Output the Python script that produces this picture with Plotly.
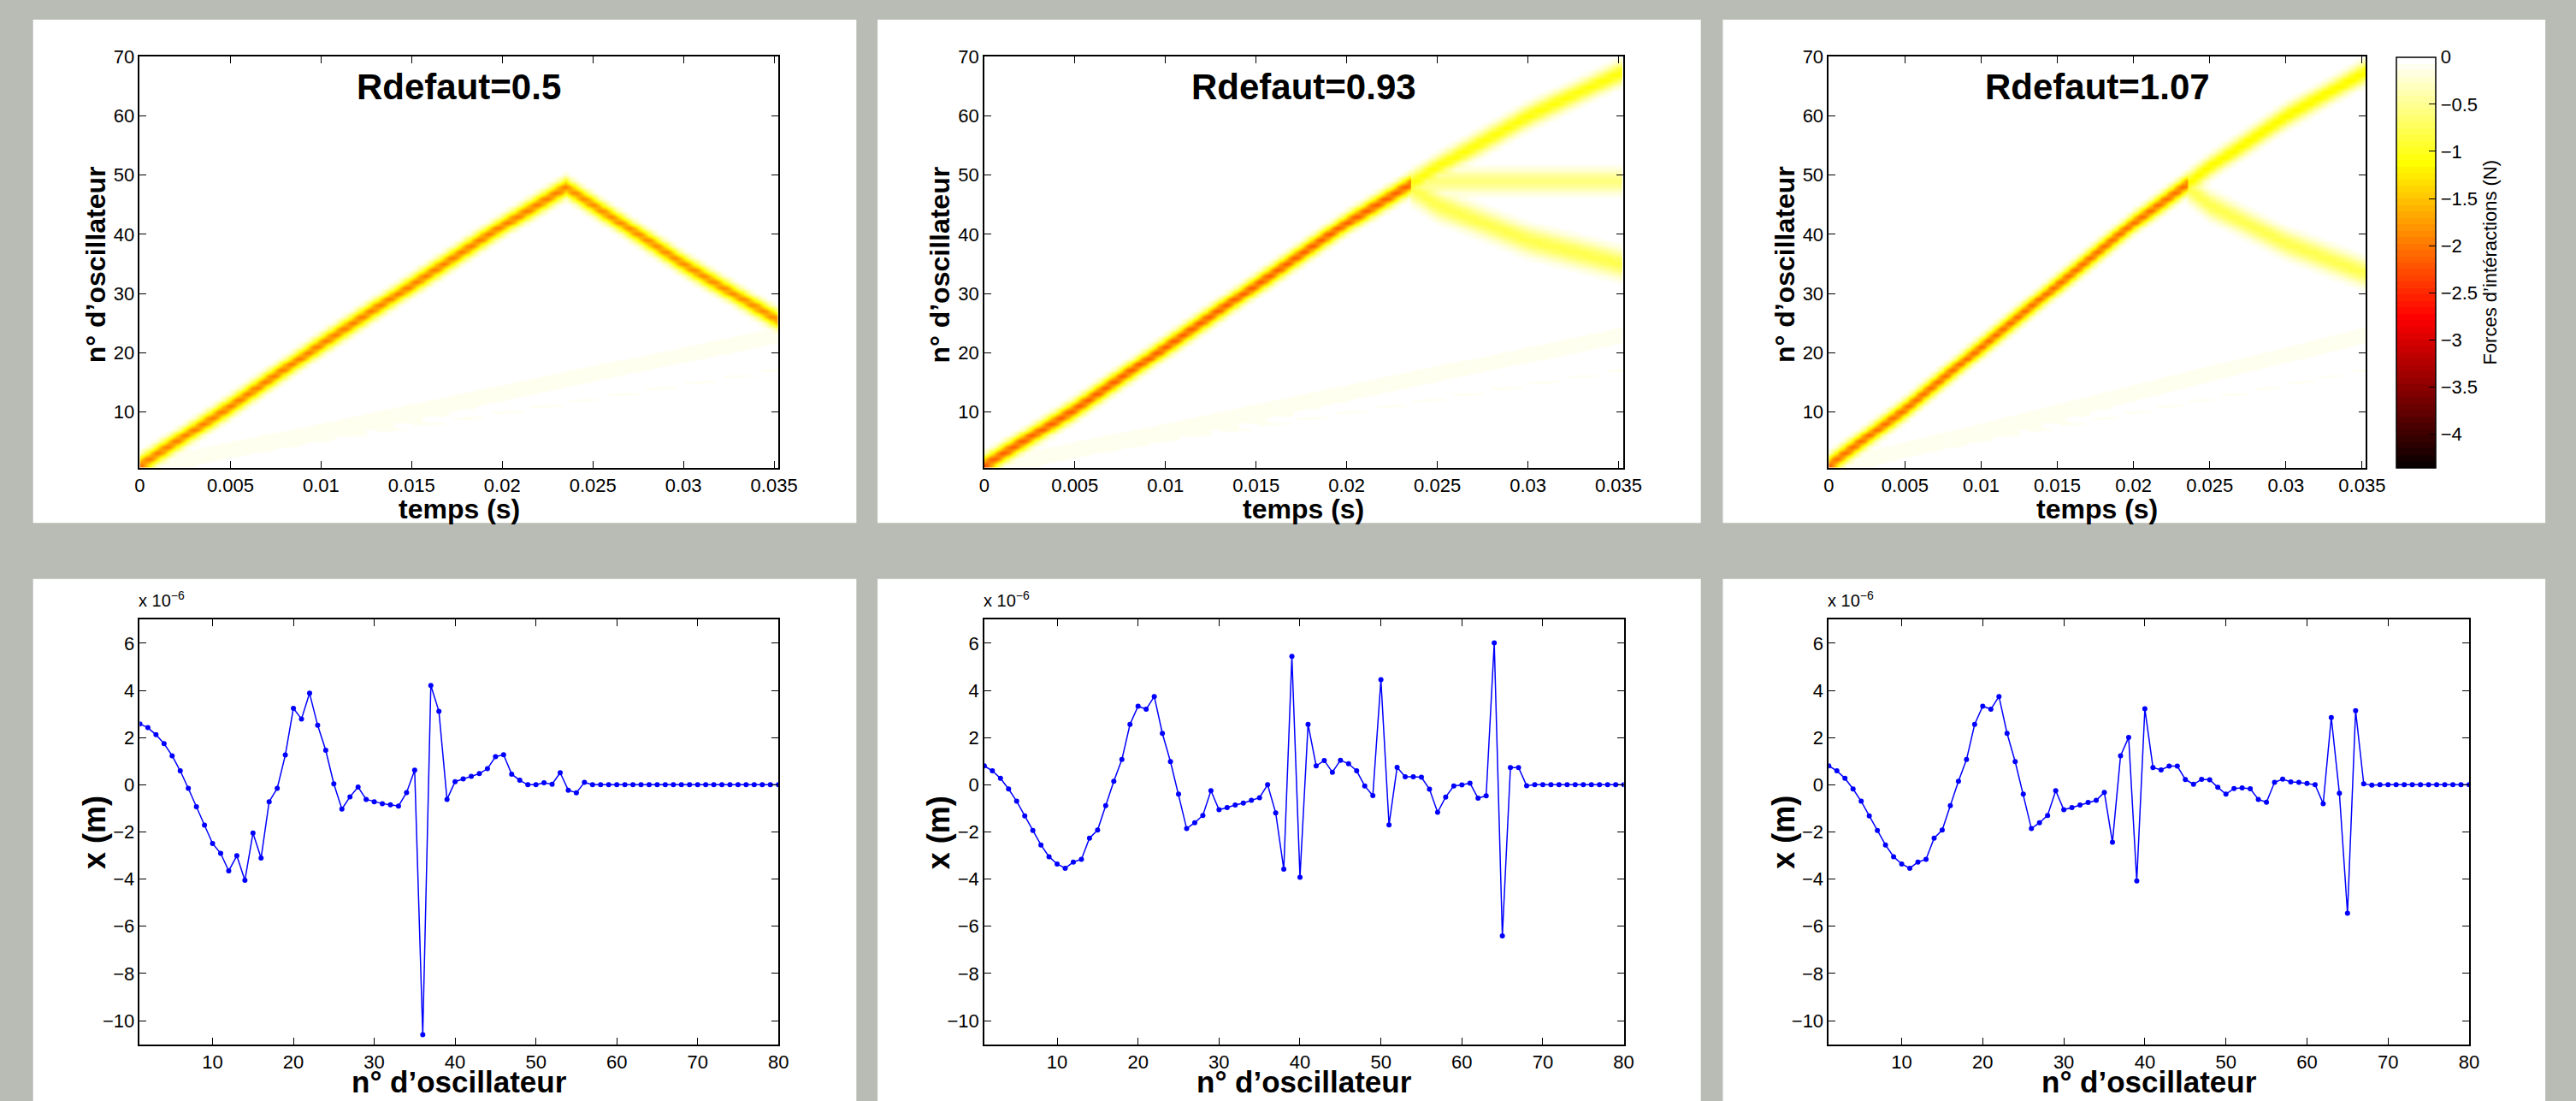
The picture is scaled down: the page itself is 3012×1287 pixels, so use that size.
import numpy as np
import plotly.graph_objects as go

W, H = 3012, 1287
BG = "#b9bcb5"
FONT = "Arial, Liberation Sans, Helvetica, sans-serif"

# ---------------- data: heatmap wavefronts (time s, oscillator n, peak force N, width) -------------
titles = ["Rdefaut=0.5", "Rdefaut=0.93", "Rdefaut=1.07"]

inc_t = [0.0, 0.005, 0.01, 0.015, 0.02, 0.0235]
p1_inc_osc = [1, 11, 21.5, 31.5, 41.5, 48]
p23_inc_osc = [1, 10.5, 21, 31.5, 42, 48.5]

out_t = [0.0235, 0.025, 0.03, 0.0352]
p1_ref_osc = [48, 45, 35, 25.5]
p2_tr_osc = [48.5, 51.5, 60, 67.5]
p2_trap_osc = [48.5, 49, 49, 49]
p2_ref_osc = [48, 45, 39, 35]
p3_tr_osc = [48.5, 51.5, 60, 67.5]
p3_ref_osc = [48, 45, 38.5, 33.5]

faint_t = [0.001, 0.0352]
faint_osc_a = [1, 23]
faint_osc_b = [1, 17]
faint_osc_c = [1, 11]

bands = [
    [(inc_t, p1_inc_osc, -2.0, 1.0), (out_t, p1_ref_osc, -1.9, 1.0),
     (faint_t, faint_osc_a, -0.09, 1.8), (faint_t, faint_osc_b, -0.07, 1.8), (faint_t, faint_osc_c, -0.05, 1.8)],
    [(inc_t, p23_inc_osc, -2.2, 1.0), (out_t, p2_tr_osc, -1.1, 1.2), (out_t, p2_trap_osc, -0.6, 1.3),
     (out_t, p2_ref_osc, -0.8, 1.5),
     (faint_t, faint_osc_a, -0.09, 1.8), (faint_t, faint_osc_b, -0.07, 1.8), (faint_t, faint_osc_c, -0.05, 1.8)],
    [(inc_t, p23_inc_osc, -2.1, 1.0), (out_t, p3_tr_osc, -1.2, 1.15), (out_t, p3_ref_osc, -0.8, 1.4),
     (faint_t, faint_osc_a, -0.09, 1.8), (faint_t, faint_osc_b, -0.07, 1.8), (faint_t, faint_osc_c, -0.05, 1.8)],
]

# ---------------- data: displacement snapshots (x 1e-6 m) -------------
osc = list(range(1, 81))
x_r05 = [2.58, 2.42, 2.12, 1.74, 1.23, 0.59, -0.15, -0.93, -1.71, -2.49,
         -2.91, -3.65, -3.01, -4.05, -2.05, -3.11, -0.72, -0.15, 1.26, 3.24,
         2.79, 3.88, 2.52, 1.46, 0.04, -1.03, -0.51, -0.10, -0.62, -0.72,
         -0.80, -0.85, -0.90, -0.33, 0.62, -10.6, 4.21, 3.11, -0.62, 0.13,
         0.25, 0.36, 0.47, 0.68, 1.19, 1.27, 0.45, 0.19, 0.0, 0.0,
         0.08, 0.02, 0.51, -0.23, -0.34, 0.10, 0.0] + [0.0] * 23
x_r093 = [0.80, 0.59, 0.27, -0.18, -0.70, -1.32, -1.94, -2.55, -3.05, -3.36,
          -3.54, -3.28, -3.16, -2.26, -1.92, -0.89, 0.15, 1.07, 2.56, 3.33,
          3.20, 3.74, 2.18, 0.98, -0.40, -1.86, -1.61, -1.30, -0.25, -1.06,
          -0.97, -0.86, -0.78, -0.66, -0.55, 0.0, -1.19, -3.58, 5.44, -3.92,
          2.56, 0.80, 1.03, 0.53, 1.04, 0.89, 0.59, -0.05, -0.46, 4.45,
          -1.70, 0.74, 0.34, 0.34, 0.32, -0.19, -1.17, -0.52, -0.05, -0.01,
          0.07, -0.57, -0.47, 6.01, -6.41, 0.73, 0.73, -0.04] + [0.0] * 12
x_r107 = [0.80, 0.59, 0.27, -0.18, -0.70, -1.32, -1.94, -2.55, -3.05, -3.36,
          -3.54, -3.28, -3.16, -2.26, -1.92, -0.89, 0.15, 1.07, 2.56, 3.33,
          3.20, 3.74, 2.18, 0.98, -0.40, -1.86, -1.61, -1.30, -0.25, -1.06,
          -0.97, -0.86, -0.75, -0.66, -0.32, -2.44, 1.23, 2.01, -4.08, 3.22,
          0.73, 0.63, 0.79, 0.79, 0.22, 0.02, 0.23, 0.21, -0.11, -0.40,
          -0.16, -0.13, -0.17, -0.62, -0.74, 0.10, 0.24, 0.12, 0.10, 0.06,
          0.0, -0.80, 2.85, -0.36, -5.45, 3.14, 0.04, -0.02] + [0.0] * 12
snapshots = [x_r05, x_r093, x_r107]

time_ticks = [0, 0.005, 0.01, 0.015, 0.02, 0.025, 0.03, 0.035]
time_ticktext = ["0", "0.005", "0.01", "0.015", "0.02", "0.025", "0.03", "0.035"]
osc_ticks_top = [10, 20, 30, 40, 50, 60, 70]
osc_ticks_bottom = [10, 20, 30, 40, 50, 60, 70, 80]
x_ticks = [-10, -8, -6, -4, -2, 0, 2, 4, 6]
cbar_ticks = [0, -0.5, -1, -1.5, -2, -2.5, -3, -3.5, -4]

ZMIN, ZMAX = -4.356, 0.0

# ---------------- build heatmap fields -------------
t_grid = np.linspace(0, 0.0352, 705)
rows = np.arange(1, 71)


def field(band_list):
    Z = np.zeros((rows.size, t_grid.size))
    for bt, bo, amp, sig in band_list:
        yc = np.interp(t_grid, bt, bo)
        mask = (t_grid >= bt[0]) & (t_grid <= bt[-1])
        c = amp * np.exp(-0.5 * ((rows[:, None] - yc[None, :]) / sig) ** 2)
        c[:, ~mask] = 0
        Z = np.minimum(Z, c)
    return np.clip(Z, ZMIN, ZMAX)


# MATLAB "hot" 64 colours, stepped
m = 64
n = 24
cols = []
for i in range(m):
    r = (i + 1) / n if i < n else 1.0
    g = 0.0 if i < n else ((i - n + 1) / n if i < 2 * n else 1.0)
    b = 0.0 if i < 2 * n else (i - 2 * n + 1) / (m - 2 * n)
    cols.append("rgb(%d,%d,%d)" % (round(r * 255), round(g * 255), round(b * 255)))
cscale = []
for i, c in enumerate(cols):
    cscale.append([i / m, c])
    cscale.append([(i + 1) / m, c])


def fx(p):
    return p / W


def fy(p):
    return 1 - p / H


fig = go.Figure()

top_x = [(159, 913), (1156, 1910), (2153, 2787)]
bot_x = [(159, 913), (1156, 1911), (2153, 2909)]
top_y = (55, 540)
bot_y = (719, 1220)
panels_top = [(33, 1005), (1030, 2002), (2028, 2999)]

shapes = []
for (a, b) in panels_top:
    shapes.append(dict(type="rect", xref="paper", yref="paper", x0=fx(a), x1=fx(b), y0=fy(605), y1=fy(11),
                       fillcolor="white", line_width=0, layer="below"))
    shapes.append(dict(type="rect", xref="paper", yref="paper", x0=fx(a), x1=fx(b), y0=fy(1290), y1=fy(671),
                       fillcolor="white", line_width=0, layer="below"))

axis_common = dict(showline=True, linecolor="black", linewidth=1.5, mirror="ticks", ticks="inside",
                   ticklen=8, tickcolor="black", tickwidth=1.2, showgrid=False, zeroline=False,
                   tickfont=dict(family=FONT, size=22, color="black"))

annotations = []
layout_axes = {}
for k in range(3):
    # heatmap
    idx = k + 1
    xa = "x" if idx == 1 else "x%d" % idx
    ya = "y" if idx == 1 else "y%d" % idx
    show = (k == 2)
    hm = go.Heatmap(z=field(bands[k]), x=t_grid, y=rows, zmin=ZMIN, zmax=ZMAX, colorscale=cscale,
                    zsmooth="best", showscale=show, xaxis=xa, yaxis=ya, hoverinfo="skip")
    if show:
        hm.colorbar = dict(x=fx(2823), xanchor="left", xpad=0, y=fy((top_y[0] + top_y[1]) / 2),
                           yanchor="middle", ypad=0, len=(top_y[1] - top_y[0]) / H, lenmode="fraction",
                           thickness=46, thicknessmode="pixels", outlinewidth=1.5, outlinecolor="black",
                           tickvals=cbar_ticks, ticktext=[("\u2212" + str(abs(v))) if v < 0 else "0" for v in cbar_ticks],
                           ticks="inside", ticklen=8, tickcolor="black",
                           tickfont=dict(family=FONT, size=22, color="black"),
                           title=dict(text="Forces d\u2019intéractions (N)", side="right",
                                      font=dict(family=FONT, size=22, color="black")))
    fig.add_trace(hm)
    layout_axes["xaxis" if idx == 1 else "xaxis%d" % idx] = dict(
        domain=[fx(top_x[k][0]), fx(top_x[k][1])], anchor=ya, range=[0, 0.03524],
        tickvals=time_ticks, ticktext=time_ticktext, **axis_common)
    layout_axes["yaxis" if idx == 1 else "yaxis%d" % idx] = dict(
        domain=[fy(top_y[1]), fy(top_y[0])], anchor=xa, range=[0.5, 70],
        tickvals=osc_ticks_top, **axis_common)

    # snapshot line
    idx2 = k + 4
    xa2, ya2 = "x%d" % idx2, "y%d" % idx2
    fig.add_trace(go.Scatter(x=osc, y=snapshots[k], mode="lines+markers", xaxis=xa2, yaxis=ya2,
                             line=dict(color="#0000ff", width=1.5),
                             marker=dict(color="#0000ff", size=6), showlegend=False, hoverinfo="skip"))
    layout_axes["xaxis%d" % idx2] = dict(domain=[fx(bot_x[k][0]), fx(bot_x[k][1])], anchor=ya2,
                                         range=[1, 80], tickvals=osc_ticks_bottom, **axis_common)
    layout_axes["yaxis%d" % idx2] = dict(domain=[fy(bot_y[1]), fy(bot_y[0])], anchor=xa2,
                                         range=[-11, 7], tickvals=x_ticks,
                                         ticktext=[("\u2212" + str(abs(v))) if v < 0 else str(v) for v in x_ticks],
                                         **axis_common)

    # texts
    cx_top = (top_x[k][0] + top_x[k][1]) / 2
    cx_bot = (bot_x[k][0] + bot_x[k][1]) / 2
    annotations += [
        dict(text="<b>%s</b>" % titles[k], x=fx(cx_top), y=fy(90), xref="paper", yref="paper",
             showarrow=False, xanchor="center", yanchor="middle", font=dict(family=FONT, size=42, color="black")),
        dict(text="<b>temps (s)</b>", x=fx(cx_top), y=fy(588), xref="paper", yref="paper",
             showarrow=False, xanchor="center", yanchor="middle", font=dict(family=FONT, size=32, color="black")),
        dict(text="<b>n° d\u2019oscillateur</b>", x=fx(top_x[k][0] - 52), y=fy(300), xref="paper", yref="paper",
             showarrow=False, textangle=-90, xanchor="center", yanchor="middle",
             font=dict(family=FONT, size=32, color="black")),
        dict(text="<b>n° d\u2019oscillateur</b>", x=fx(cx_bot), y=fy(1286), xref="paper", yref="paper",
             showarrow=False, xanchor="center", yanchor="bottom", font=dict(family=FONT, size=35, color="black")),
        dict(text="<b>x (m)</b>", x=fx(bot_x[k][0] - 53), y=fy(970), xref="paper", yref="paper",
             showarrow=False, textangle=-90, xanchor="center", yanchor="middle",
             font=dict(family=FONT, size=36, color="black")),
        dict(text="x 10<sup>\u22126</sup>", x=fx(bot_x[k][0] - 3), y=fy(710), xref="paper", yref="paper",
             showarrow=False, xanchor="left", yanchor="bottom", font=dict(family=FONT, size=20, color="black")),
    ]

fig.update_layout(width=W, height=H, margin=dict(l=0, r=0, t=0, b=0, pad=0),
                  paper_bgcolor=BG, plot_bgcolor="white", showlegend=False,
                  shapes=shapes, annotations=annotations, **layout_axes)

fig.write_html("out.html")
